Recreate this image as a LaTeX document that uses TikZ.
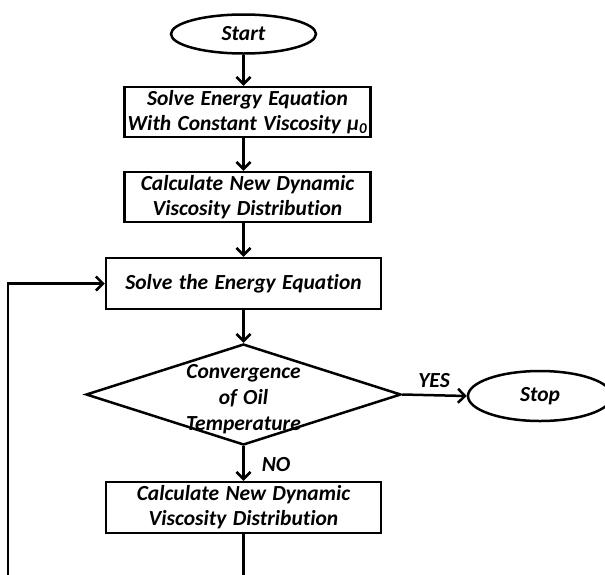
\documentclass[tikz,border=0pt]{standalone}
\usepackage{fontspec}
\setmainfont[Ligatures=NoCommon,WordSpace=1.3]{Carlito}
\usetikzlibrary{shapes.geometric,arrows.meta}
\begin{document}
\begin{tikzpicture}[x=1pt,y=-1pt,
  txt/.style={font=\fontsize{21.5}{25}\selectfont\bfseries\itshape},
  box/.style={txt,draw,line width=2.5pt,align=center,inner sep=0pt},
  term/.style={txt,draw,ellipse,line width=2.5pt,inner sep=0pt},
  arr/.style={line width=2.5pt,-{Straight Barb[length=7pt,width=14pt]}},
  ln/.style={line width=2.5pt}]
\useasboundingbox (0,0) rectangle (605,574);
\clip (0,0) rectangle (605,574);
\node[term,minimum width=145pt,minimum height=39pt] (start) at (243.5,34) {Start};
\node[box,minimum width=246pt,minimum height=50pt] (b1) at (247.5,112) {Solve Energy Equation\\With Constant Viscosity μ\textsubscript{0}};
\node[box,minimum width=246pt,minimum height=50pt] (b2) at (247.5,197) {Calculate New Dynamic\\Viscosity Distribution};
\node[box,minimum width=275pt,minimum height=51pt] (b3) at (243.5,283.5) {Solve the Energy Equation};
\node[draw,diamond,line width=2.5pt,minimum width=315pt,minimum height=101pt,inner sep=0pt] (dec) at (243.5,394.5) {};
\node[txt,align=center,font=\fontsize{21.5}{26}\selectfont\bfseries\itshape] (dectext) at (243.5,399) {Convergence\\of Oil\\Temperature};
\node[term,minimum width=144pt,minimum height=50pt] (stop) at (540,396) {Stop};
\node[box,minimum width=275pt,minimum height=51pt] (b4) at (243.5,507.5) {Calculate New Dynamic\\Viscosity Distribution};
\node[txt] (yes) at (434,381) {YES};
\node[txt] (no) at (276,465) {NO};
\coordinate (bot1) at (243.5,590);
\coordinate (bot2) at (8,590);
\draw[arr] (start.south) -- (start.south |- b1.north);
\draw[arr] (b1.south -| start) -- (b2.north -| start);
\draw[arr] (b2.south -| start) -- (b3.north);
\draw[arr] (b3.south) -- (dec.north);
\draw[arr] (dec.east) -- (stop.west);
\draw[arr] (dec.south) -- (b4.north);
\draw[ln] (b4.south) -- (bot1);
\draw[arr] (bot2) |- (b3.west);
\end{tikzpicture}
\end{document}
